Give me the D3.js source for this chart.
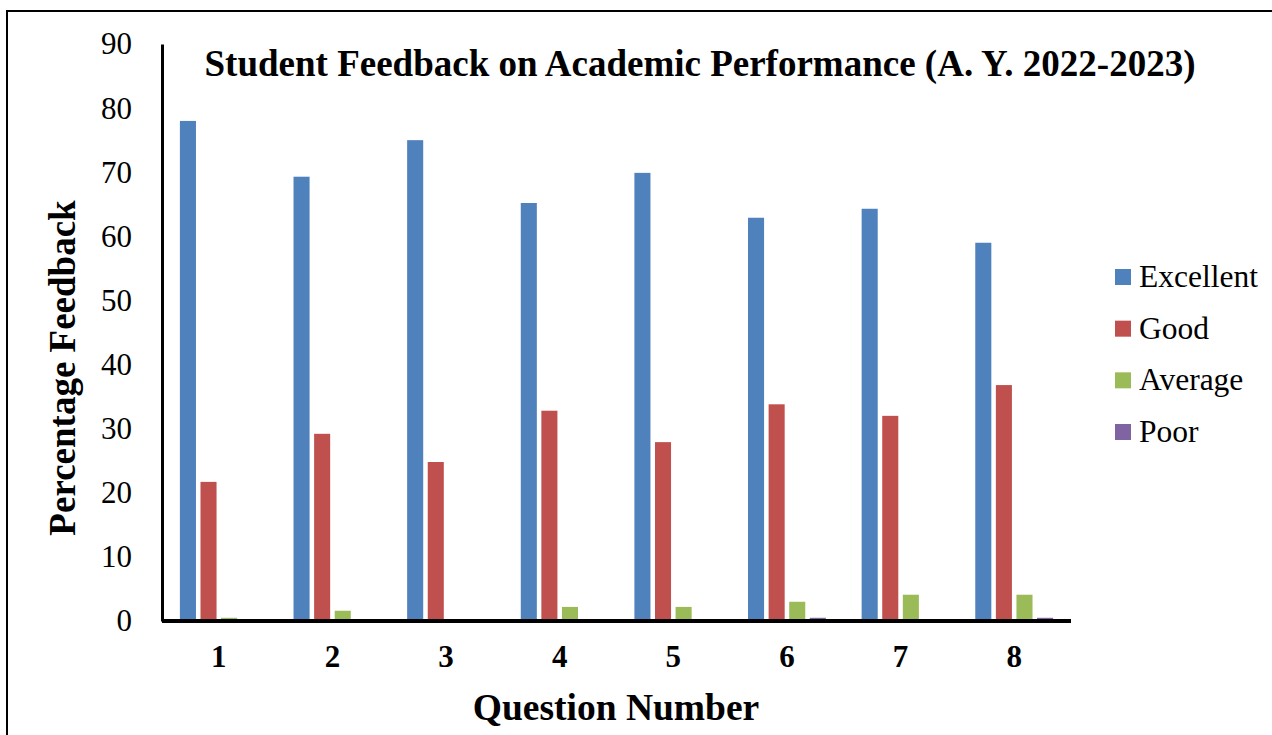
<!DOCTYPE html>
<html><head><meta charset="utf-8">
<script src="https://cdn.jsdelivr.net/npm/d3@7"></script>
<style>body{margin:0;background:#fff;} svg{display:block;}</style>
</head><body>
<svg id="chart" width="1272" height="735"></svg>
<script>
const categories = ["1","2","3","4","5","6","7","8"];
const seriesNames = ["Excellent","Good","Average","Poor"];
const excellent = [78.0, 69.3, 75.0, 65.2, 69.9, 62.9, 64.3, 59.0];
const good      = [21.7, 29.2, 24.8, 32.8, 27.9, 33.8, 32.0, 36.8];
const average   = [0.5, 1.6, 0.3, 2.2, 2.2, 3.0, 4.1, 4.1];
const poor      = [0, 0, 0, 0, 0.2, 0.5, 0, 0.5];
const yTicks = [0,10,20,30,40,50,60,70,80,90];
const colors = ["#4F81BD","#C0504D","#9BBB59","#8064A2"];
const seriesValues = [excellent, good, average, poor];

const svg = d3.select("#chart");
const font = "'Liberation Serif','Times New Roman',serif";
const m = {left:162, right:1071, top:44, bottom:621};

// border
svg.append("path").attr("d","M7,735 L7,11 L1272,11").attr("fill","none").attr("stroke","#000").attr("stroke-width",2);

const x0 = d3.scaleBand().domain(categories).range([m.left, m.right]).paddingInner(0.315).paddingOuter(0.1575);
const x1 = d3.scaleBand().domain(seriesNames).range([0, x0.bandwidth()]).paddingInner(0.22);
const y = d3.scaleLinear().domain([0,90]).range([m.bottom, m.top]);

const data = categories.map((c,i)=>({c, vals: seriesNames.map((s,j)=>({s, v: seriesValues[j][i], color: colors[j]}))}));

const g = svg.append("g");
g.selectAll("g.grp").data(data).join("g").attr("class","grp")
 .attr("transform", d=>`translate(${x0(d.c)},0)`)
 .selectAll("rect").data(d=>d.vals).join("rect")
 .attr("x", d=>x1(d.s)).attr("width", x1.bandwidth())
 .attr("y", d=>y(d.v)).attr("height", d=>y(0)-y(d.v))
 .attr("fill", d=>d.color);

// axes
const yAxis = d3.axisLeft(y).tickValues(yTicks).tickSize(0).tickPadding(30);
const ya = svg.append("g").attr("transform",`translate(${m.left},0)`).call(yAxis);
ya.select(".domain").attr("stroke","#000").attr("stroke-width",3);
ya.selectAll("text").attr("font-family",font).attr("font-size",31).attr("fill","#000");

const xAxis = d3.axisBottom(x0).tickSize(0).tickPadding(24);
const xa = svg.append("g").attr("transform",`translate(0,${m.bottom})`).call(xAxis);
xa.select(".domain").attr("stroke","#000").attr("stroke-width",4).attr("d",`M${m.left},0H${m.right}`);
xa.selectAll("text").attr("font-family",font).attr("font-size",31).attr("font-weight","bold").attr("fill","#000");

// title
svg.append("text").attr("x",700).attr("y",76).attr("text-anchor","middle")
 .attr("font-family",font).attr("font-size",37).attr("font-weight","bold")
 .text("Student Feedback on Academic Performance (A. Y. 2022-2023)");

svg.append("text").attr("transform","translate(75,368) rotate(-90)").attr("text-anchor","middle")
 .attr("font-family",font).attr("font-size",37).attr("font-weight","bold")
 .text("Percentage Feedback");

svg.append("text").attr("x",616).attr("y",720).attr("text-anchor","middle")
 .attr("font-family",font).attr("font-size",37.5).attr("font-weight","bold")
 .text("Question Number");

// legend
const lg = svg.append("g").attr("transform","translate(1115,0)");
const ly = d3.scalePoint().domain(seriesNames).range([277,432]);
seriesNames.forEach((s,i)=>{
  lg.append("rect").attr("x",0).attr("y",ly(s)-8).attr("width",16).attr("height",16).attr("fill",colors[i]);
  lg.append("text").attr("x",24).attr("y",ly(s)+10).attr("font-family",font).attr("font-size",31.5).text(s);
});
</script>
</body></html>
